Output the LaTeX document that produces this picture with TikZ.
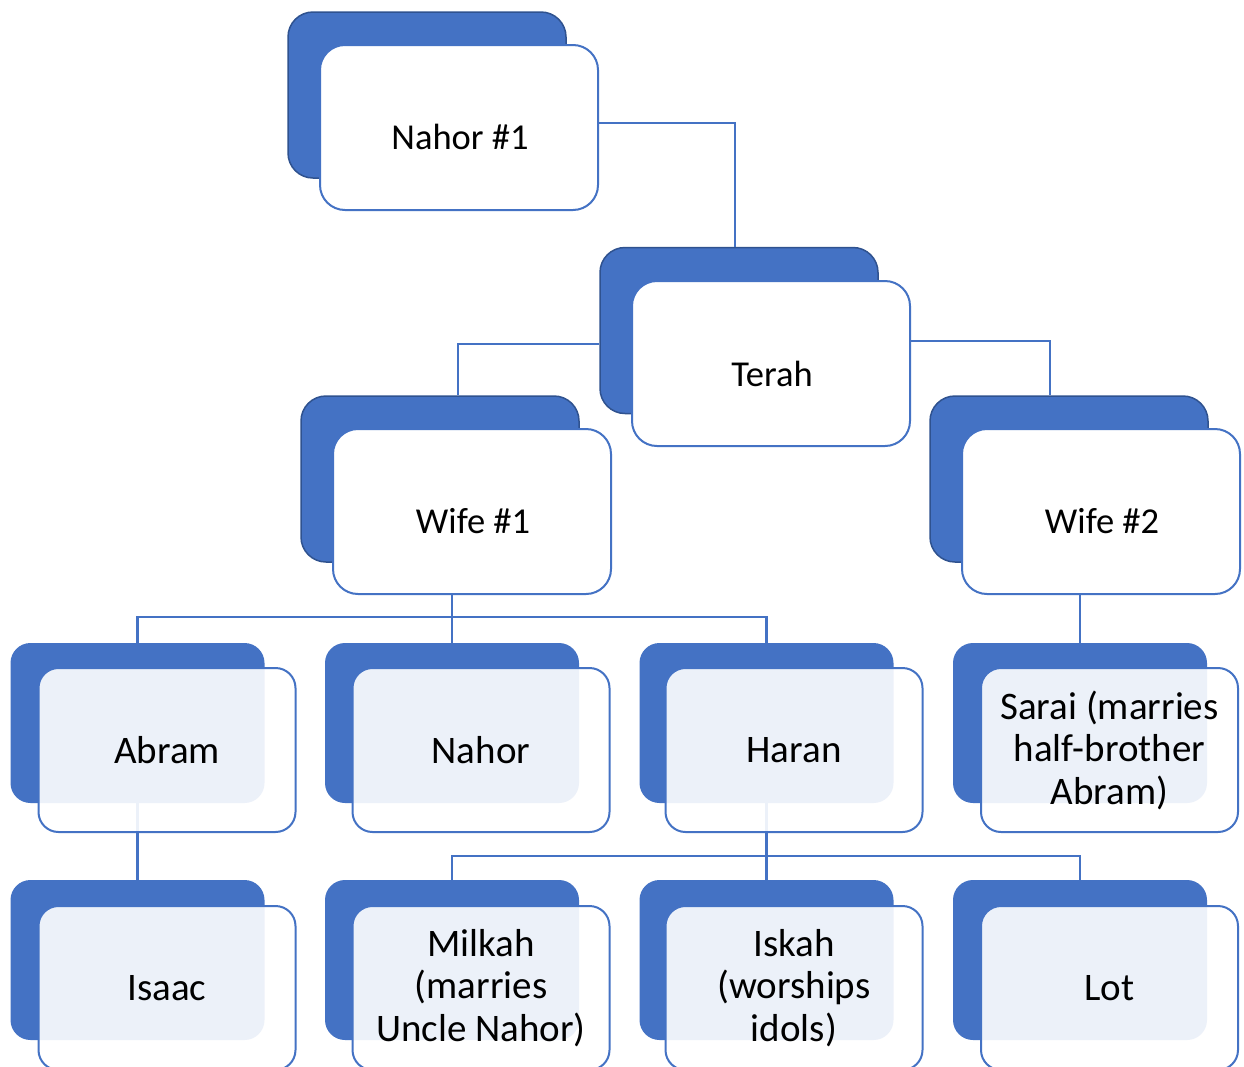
\documentclass[tikz,border=0pt]{standalone}
\usepackage{fontspec}
\setmainfont{Carlito}
\definecolor{blueA}{HTML}{4472C4}
\definecolor{blueD}{HTML}{2F528F}
\newcommand\famfont{\fontsize{36.5}{42.5}\selectfont}
\newcommand\lowfont{\fontsize{39}{42.5}\selectfont}
\pgfdeclarelayer{backl}
\pgfdeclarelayer{linesl}
\pgfsetlayers{backl,linesl,main}
\begin{document}
\begin{tikzpicture}[x=1pt,y=-1pt,
 backtop/.style={rectangle, rounded corners=25pt, fill=blueA, draw=blueD, line width=1.5pt, minimum width=278pt, minimum height=166pt, inner sep=0pt},
 fronttop/.style={rectangle, rounded corners=25pt, fill=white, draw=blueA, line width=2pt, minimum width=278pt, minimum height=165pt, inner sep=0pt},
 backlow/.style={rectangle, rounded corners=20pt, fill=blueA, minimum width=254pt, minimum height=160pt, inner sep=0pt},
 frontlow/.style={rectangle, rounded corners=20pt, fill=white, fill opacity=0.9, text opacity=1, draw=blueA, draw opacity=1, line width=2pt, minimum width=257pt, minimum height=164pt, inner sep=0pt, align=center, font=\lowfont},
 txt/.style={inner sep=0pt, align=center, font=\famfont},
 conn/.style={draw=blueA, line width=2.2pt}]
\useasboundingbox (0,0) rectangle (1244,1066);

\begin{pgfonlayer}{backl}
\fill[white] (0,0) rectangle (1244,1066);
\node[backtop] (n1b) at (427,95) {};
\node[backtop] (terb) at (739,330.5) {};
\node[backtop] (w1b) at (440,479) {};
\node[backtop] (w2b) at (1069,479) {};
\node[backlow] (abrb) at (137.5,723) {};
\node[backlow] (nahb) at (452,723) {};
\node[backlow] (harb) at (766.5,723) {};
\node[backlow] (sarb) at (1080,723) {};
\node[backlow] (isab) at (137.5,960) {};
\node[backlow] (milb) at (452,960) {};
\node[backlow] (iskb) at (766.5,960) {};
\node[backlow] (lotb) at (1080,960) {};
\end{pgfonlayer}

\node[fronttop] (n1f) at (459,127.5) {};
\node[txt] (n1t) at (460,137) {Nahor \#1};
\node[fronttop] (terf) at (771,363.5) {};
\node[txt] (tert) at (772,374) {Terah};
\node[fronttop] (w1f) at (472,511.5) {};
\node[txt] (w1t) at (473,521) {Wife \#1};
\node[fronttop] (w2f) at (1101,511.5) {};
\node[txt] (w2t) at (1102,521) {Wife \#2};

\node[frontlow] (abrf) at (167,750) {Abram};
\node[frontlow] (nahf) at (481,750) {Nahor};
\node[frontlow] (harf) at (794,750) {Haran};
\node[frontlow] (sarf) at (1109.5,750) {Sarai (marries\\half-brother\\Abram)};
\node[frontlow] (isaf) at (167,988) {Isaac};
\node[frontlow] (milf) at (481,988) {Milkah\\(marries\\Uncle Nahor)};
\node[frontlow] (iskf) at (794,988) {Iskah\\(worships\\idols)};
\node[frontlow] (lotf) at (1109.5,988) {Lot};

\begin{pgfonlayer}{linesl}
\draw[conn] ([yshift=4.5pt]n1f.east) -| ([xshift=-4pt]terb.north);
\draw[conn] ([yshift=-13.5pt]terb.west) -| ([xshift=18pt]w1b.north);
\draw[conn] ([yshift=22.5pt]terf.east) -| ([xshift=-19pt]w2b.north);
\draw[conn] (w1f.south -| nahb.north) -- (nahb.north);
\draw[conn] (abrb.north) -- ++(0,-26) -| (harb.north);
\draw[conn] (w2f.south -| sarb.north) -- (sarb.north);
\draw[conn] (abrb.south) -- (isab.north);
\draw[conn] (harb.south) -- (iskb.north);
\draw[conn] (milb.north) -- ++(0,-24) -| (lotb.north);
\end{pgfonlayer}
\end{tikzpicture}
\end{document}
